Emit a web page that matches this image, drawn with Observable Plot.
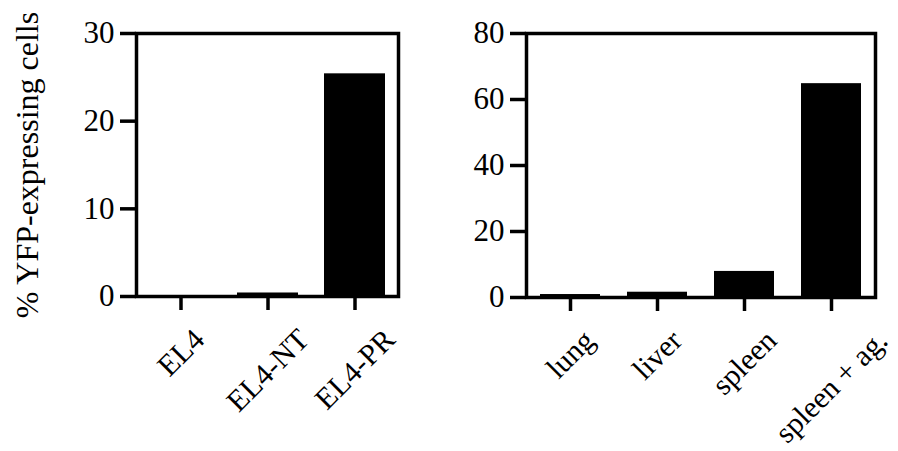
<!DOCTYPE html>
<html>
<head>
<meta charset="utf-8">
<script src="https://cdn.jsdelivr.net/npm/d3@7"></script>
<script src="https://cdn.jsdelivr.net/npm/@observablehq/plot@0.6"></script>
<style>
  html, body { margin: 0; padding: 0; background: #fff; }
  #wrap { display: flex; width: 898px; height: 451px; }
  svg { display: block; }
</style>
</head>
<body>
<div id="wrap"></div>
<script>
const leftCategories = ["EL4", "EL4-NT", "EL4-PR"];
const leftValues = [0.1, 0.4, 25.4];
const leftTicks = [0, 10, 20, 30];

const rightCategories = ["lung", "liver", "spleen", "spleen + ag."];
const rightValues = [0.9, 1.6, 7.9, 64.8];
const rightTicks = [0, 20, 40, 60, 80];

const yLabel = "% YFP-expressing cells";

const FONT = "'Liberation Serif', 'Times New Roman', serif";
const FS_Y = 31;   // y tick labels
const FS_X = 30;   // category labels
const FS_L = 32;   // axis title
const ctx = document.createElement("canvas").getContext("2d");
ctx.font = `${FS_X}px ${FONT}`;
const textLen = s => ctx.measureText(s).width;

function panel({cats, vals, ticks, width, marginLeft, marginRight, marginBottom, pInner, pOuter, withLabel}) {
  const data = cats.map((c, i) => ({c, v: vals[i]}));
  const labelMarks = cats.map(c => Plot.text([c], {
    x: d => d,
    frameAnchor: "bottom",
    text: d => d,
    rotate: -45,
    textAnchor: "middle",
    lineAnchor: "middle",
    dy: 38 + 0.354 * textLen(c),
    fontSize: FS_X,
    fill: "black"
  }));
  const marks = [
    Plot.barY(data, {x: "c", y: "v", fill: "black"}),
    Plot.axisY({ticks, tickSize: 16, tickPadding: 6, fontSize: FS_Y, strokeWidth: 3.5, label: null}),
    Plot.axisX({tickSize: 14, tickFormat: () => "", strokeWidth: 3.5, label: null}),
    Plot.frame({stroke: "black", strokeWidth: 3.5}),
    ...labelMarks
  ];
  if (withLabel) {
    marks.push(Plot.text([yLabel], {
      frameAnchor: "left",
      text: d => d,
      rotate: -90,
      dx: -109,
      textAnchor: "middle",
      lineAnchor: "middle",
      fontSize: FS_L,
      fill: "black"
    }));
  }
  return Plot.plot({
    width, height: 451,
    marginLeft, marginRight, marginTop: 33, marginBottom,
    style: {fontFamily: FONT, fontSize: FS_Y + "px", color: "black", background: "white", overflow: "visible"},
    x: {type: "band", domain: cats, paddingInner: pInner, paddingOuter: pOuter, axis: null},
    y: {domain: [ticks[0], ticks[ticks.length - 1]], axis: null},
    marks
  });
}

const wrap = document.getElementById("wrap");
wrap.append(panel({
  cats: leftCategories, vals: leftValues, ticks: leftTicks,
  width: 420, marginLeft: 136, marginRight: 22, marginBottom: 155,
  pInner: 0.30, pOuter: 0.147, withLabel: true
}));
wrap.append(panel({
  cats: rightCategories, vals: rightValues, ticks: rightTicks,
  width: 478, marginLeft: 106, marginRight: 23, marginBottom: 154,
  pInner: 0.307, pOuter: 0.137, withLabel: false
}));
</script>
</body>
</html>
